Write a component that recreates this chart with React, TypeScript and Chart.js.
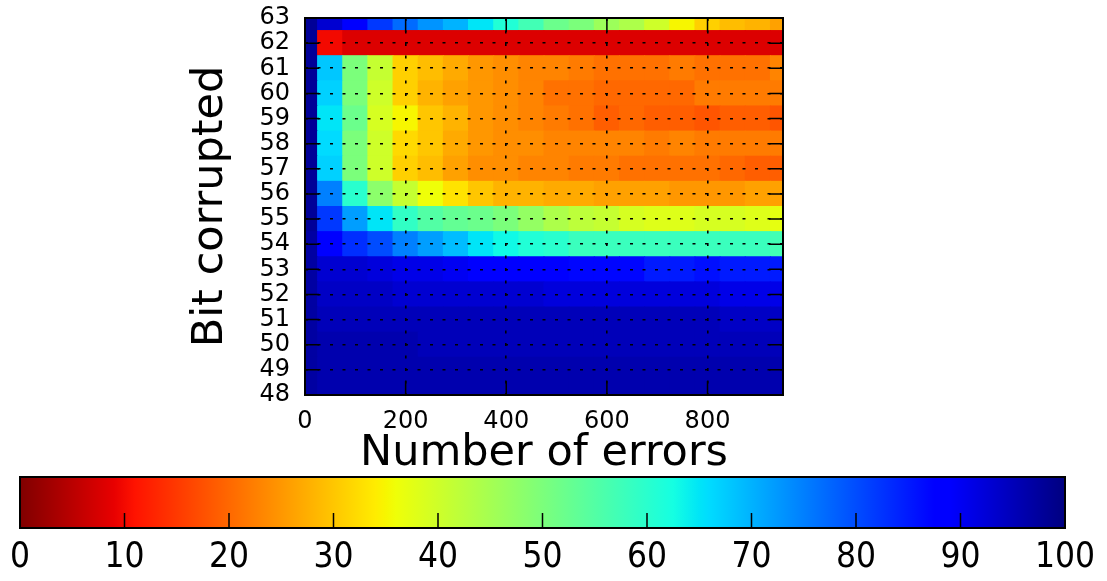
import React, { useEffect, useRef } from 'react';
import { Chart, registerables } from 'chart.js';

Chart.register(...registerables);

// ---------- data ----------
const errorBins = [0, 50, 100, 150, 200, 250, 300, 350, 400, 450, 500, 550, 600, 650, 700, 750, 800, 850, 900, 950];
const bitsCorrupted = [63, 62, 61, 60, 59, 58, 57, 56, 55, 54, 53, 52, 51, 50, 49, 48];

const bit63 = [98, 93, 88, 82, 77, 73, 70, 65, 61, 57, 52, 50, 46, 44, 40, 35, 31, 29, 28, 26];
const bit62 = [98, 10, 8, 8, 8, 8, 8, 8, 8, 8, 8, 8, 8, 8, 8, 8, 8, 8, 8, 8];
const bit61 = [98, 68, 50, 41, 31, 29, 27, 25, 24, 23, 23, 22, 21, 21, 21, 22, 21, 21, 21, 23];
const bit60 = [98, 67, 50, 40, 31, 28, 26, 25, 24, 23, 21, 21, 20, 20, 20, 20, 22, 22, 22, 22];
const bit59 = [98, 65, 52, 39, 35, 30, 28, 25, 24, 23, 22, 21, 19, 20, 19, 19, 18, 19, 19, 18];
const bit58 = [98, 66, 50, 40, 32, 30, 27, 25, 24, 24, 23, 23, 23, 23, 22, 23, 22, 22, 22, 22];
const bit57 = [98, 67, 50, 40, 31, 29, 26, 24, 24, 23, 23, 22, 22, 21, 21, 21, 21, 20, 19, 19];
const bit56 = [98, 75, 60, 48, 41, 36, 33, 30, 28, 28, 27, 27, 26, 26, 26, 25, 25, 25, 26, 26];
const bit55 = [98, 82, 72, 65, 59, 55, 53, 52, 50, 47, 44, 42, 41, 39, 38, 38, 39, 39, 38, 37];
const bit54 = [97, 88, 83, 80, 75, 72, 69, 65, 63, 61, 60, 58, 58, 58, 58, 58, 58, 58, 58, 57];
const bit53 = [97, 93, 93, 92, 91, 91, 90, 89, 88, 88, 88, 87, 87, 87, 85, 85, 86, 85, 85, 85];
const bit52 = [97, 94, 94, 94, 93, 93, 93, 93, 93, 93, 92, 92, 92, 92, 92, 92, 92, 91, 91, 91];
const bit51 = [97, 95, 95, 95, 95, 95, 95, 95, 95, 95, 95, 95, 95, 95, 95, 95, 95, 94, 94, 94];
const bit50 = [97, 96, 96, 96, 96, 95, 95, 95, 95, 95, 95, 95, 95, 95, 95, 95, 95, 95, 95, 95];
const bit49 = [97, 96, 96, 96, 96, 96, 96, 96, 96, 96, 96, 96, 96, 96, 96, 96, 96, 96, 96, 96];
const bit48 = [97, 96, 96, 96, 96, 96, 96, 96, 96, 96, 96, 96, 96, 96, 96, 96, 96, 96, 96, 96];

const rowsByBit = [bit63, bit62, bit61, bit60, bit59, bit58, bit57, bit56, bit55, bit54, bit53, bit52, bit51, bit50, bit49, bit48];

const xTickStep = 200;
const colorbarMin = 0;
const colorbarMax = 100;
const colorbarStep = 10;

// ---------- jet colormap (reversed: 0 -> dark red, 100 -> dark blue) ----------
const JET_R: number[][] = [[0, 0], [0.35, 0], [0.66, 1], [0.89, 1], [1, 0.5]];
const JET_G: number[][] = [[0, 0], [0.125, 0], [0.375, 1], [0.64, 1], [0.91, 0], [1, 0]];
const JET_B: number[][] = [[0, 0.5], [0.11, 1], [0.34, 1], [0.65, 0], [1, 0]];

function interp(pts: number[][], t: number) {
  if (t <= pts[0][0]) return pts[0][1];
  for (let i = 1; i < pts.length; i++) {
    if (t <= pts[i][0]) {
      const [t0, v0] = pts[i - 1];
      const [t1, v1] = pts[i];
      return v0 + ((t - t0) / (t1 - t0)) * (v1 - v0);
    }
  }
  return pts[pts.length - 1][1];
}

function jetColor(t: number) {
  const r = Math.round(interp(JET_R, t) * 255);
  const g = Math.round(interp(JET_G, t) * 255);
  const b = Math.round(interp(JET_B, t) * 255);
  return `rgb(${r},${g},${b})`;
}

function valueColor(v: number) {
  return jetColor(1 - (v - colorbarMin) / (colorbarMax - colorbarMin));
}

const FONT = '"DejaVu Sans", sans-serif';
const CB_FONT = '"Liberation Sans Narrow", "DejaVu Sans Condensed", "DejaVu Sans", sans-serif';

const frameTicksPlugin = {
  id: 'frameTicks',
  afterDraw(chart: any) {
    const { ctx, chartArea } = chart;
    const { left, right, top, bottom } = chartArea;
    const x = chart.scales.x;
    const y = chart.scales.y;
    const len = 14;
    ctx.save();
    ctx.strokeStyle = '#000';
    ctx.lineWidth = 1.5;
    ctx.setLineDash([]);
    ctx.beginPath();
    x.ticks.forEach((t: any) => {
      const px = x.getPixelForValue(t.value);
      ctx.moveTo(px, bottom);
      ctx.lineTo(px, bottom - len);
      ctx.moveTo(px, top);
      ctx.lineTo(px, top + len);
    });
    y.ticks.forEach((t: any) => {
      const py = y.getPixelForValue(t.value);
      ctx.moveTo(left, py);
      ctx.lineTo(left + len, py);
      ctx.moveTo(right, py);
      ctx.lineTo(right - len, py);
    });
    ctx.stroke();
    ctx.lineWidth = 2;
    ctx.strokeRect(left, top, right - left, bottom - top);
    ctx.restore();
  },
};

const colorbarPlugin = {
  id: 'colorbarFill',
  beforeDatasetsDraw(chart: any) {
    const { ctx, chartArea } = chart;
    const x = chart.scales.x;
    const p0 = x.getPixelForValue(colorbarMin);
    const p1 = x.getPixelForValue(colorbarMax);
    const grad = ctx.createLinearGradient(p0, 0, p1, 0);
    const breaks = [0, 0.11, 0.125, 0.34, 0.35, 0.375, 0.64, 0.65, 0.66, 0.89, 0.91, 1];
    breaks.forEach((t) => grad.addColorStop(1 - t, jetColor(t)));
    ctx.save();
    ctx.fillStyle = grad;
    ctx.fillRect(p0, chartArea.top, p1 - p0, chartArea.bottom - chartArea.top);
    ctx.restore();
  },
  afterDraw(chart: any) {
    const { ctx, chartArea } = chart;
    const { left, right, top, bottom } = chartArea;
    const x = chart.scales.x;
    ctx.save();
    ctx.strokeStyle = '#000';
    ctx.lineWidth = 1.5;
    ctx.beginPath();
    x.ticks.forEach((t: any) => {
      if (t.value === colorbarMin || t.value === colorbarMax) return;
      const px = x.getPixelForValue(t.value);
      ctx.moveTo(px, bottom);
      ctx.lineTo(px, bottom - 15);
    });
    ctx.stroke();
    ctx.lineWidth = 2;
    ctx.strokeRect(left, top, right - left, bottom - top);
    ctx.restore();
  },
};

export default function App() {
  const mainRef = useRef<HTMLCanvasElement>(null);
  const barRef = useRef<HTMLCanvasElement>(null);

  useEffect(() => {
    const cells: any[] = [];
    const colors: string[] = [];
    bitsCorrupted.forEach((bit, i) => {
      errorBins.forEach((e, j) => {
        const v = rowsByBit[i][j];
        cells.push({ x: e, y: bit, v });
        colors.push(valueColor(v));
      });
    });

    const cellRadius = (ctx: any) => {
      const { x, y } = ctx.chart.scales;
      if (!x || !y) return 10;
      const w = Math.abs(x.getPixelForValue(errorBins[1]) - x.getPixelForValue(errorBins[0]));
      const h = Math.abs(y.getPixelForValue(bitsCorrupted[0]) - y.getPixelForValue(bitsCorrupted[1]));
      return (Math.max(w, h) + 1) / Math.SQRT2;
    };

    const tickFont = { family: FONT, size: 24 };
    const titleFont = { family: FONT, size: 43 };

    const main = new Chart(mainRef.current as HTMLCanvasElement, {
      type: 'scatter',
      data: {
        datasets: [
          {
            data: cells,
            pointStyle: 'rect',
            pointRadius: cellRadius,
            pointHoverRadius: cellRadius,
            pointBackgroundColor: colors,
            pointBorderWidth: 0,
            clip: 0,
          } as any,
        ],
      },
      options: {
        animation: false,
        responsive: false,
        events: [],
        layout: { padding: { left: 185, top: 18, right: 324, bottom: 0 } },
        plugins: { legend: { display: false }, tooltip: { enabled: false } },
        scales: {
          x: {
            type: 'linear',
            min: 0,
            max: 950,
            afterFit: (s: any) => {
              s.height = 85;
              s.paddingLeft = 0;
              s.paddingRight = 0;
            },
            ticks: { stepSize: xTickStep, includeBounds: false, padding: 12, color: '#000', font: tickFont, maxRotation: 0 },
            grid: { color: '#000', lineWidth: 1.6, drawTicks: false, z: 1 },
            border: { display: false, dash: [3, 9.5] },
            title: { display: true, text: 'Number of errors', color: '#000', font: titleFont, padding: 0 },
          },
          y: {
            type: 'linear',
            min: 48,
            max: 63,
            afterFit: (s: any) => {
              s.width = 120;
              s.paddingTop = 0;
              s.paddingBottom = 0;
            },
            ticks: { stepSize: 1, autoSkip: false, padding: 15, color: '#000', font: tickFont },
            grid: { color: '#000', lineWidth: 1.6, drawTicks: false, z: 1 },
            border: { display: false, dash: [3, 9.5] },
            title: { display: true, text: 'Bit corrupted', color: '#000', font: titleFont, padding: 0 },
          },
        },
      } as any,
      plugins: [frameTicksPlugin],
    });

    const bar = new Chart(barRef.current as HTMLCanvasElement, {
      type: 'scatter',
      data: { datasets: [] },
      options: {
        animation: false,
        responsive: false,
        events: [],
        layout: { padding: { left: 20, top: 12, right: 42, bottom: 0 } },
        plugins: { legend: { display: false }, tooltip: { enabled: false } },
        scales: {
          x: {
            type: 'linear',
            min: colorbarMin,
            max: colorbarMax,
            afterFit: (s: any) => {
              s.height = 53;
              s.paddingLeft = 0;
              s.paddingRight = 0;
            },
            ticks: { stepSize: colorbarStep, autoSkip: false, padding: 9, color: '#000', font: { family: CB_FONT, size: 35 }, maxRotation: 0 },
            grid: { display: false, drawTicks: false },
            border: { display: false },
          },
          y: { display: false, min: 0, max: 1 },
        },
      } as any,
      plugins: [colorbarPlugin],
    });

    return () => {
      main.destroy();
      bar.destroy();
    };
  }, []);

  return (
    <div style={{ position: 'absolute', left: 0, top: 0, width: 1107, height: 581, background: '#fff' }}>
      <canvas ref={mainRef} width={1107} height={480} style={{ position: 'absolute', left: 0, top: 0, width: 1107, height: 480 }} />
      <canvas ref={barRef} width={1107} height={116} style={{ position: 'absolute', left: 0, top: 465, width: 1107, height: 116 }} />
    </div>
  );
}
